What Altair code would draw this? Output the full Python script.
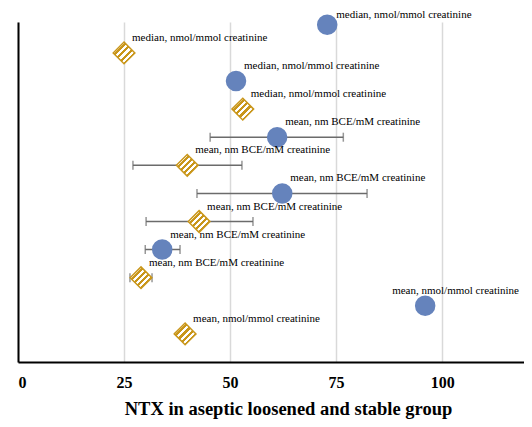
import altair as alt
import pandas as pd

# Data
row_pos = [12, 11, 10, 9, 8, 7, 6, 5, 4, 3, 2, 1]
group = ["loosened", "stable"] * 6
value = [72.9, 25.0, 51.4, 53.0, 61.1, 39.9, 62.3, 42.7, 34.0, 29.0, 96.0, 39.4]
lower = [None, None, None, None, 45.3, 27.1, 42.2, 30.2, 30.0, 26.4, None, None]
upper = [None, None, None, None, 76.7, 52.8, 82.3, 55.4, 38.2, 31.6, None, None]
labels = [
    "median, nmol/mmol creatinine",
    "median, nmol/mmol creatinine",
    "median, nmol/mmol creatinine",
    "median, nmol/mmol creatinine",
    "mean, nm BCE/mM creatinine",
    "mean, nm BCE/mM creatinine",
    "mean, nm BCE/mM creatinine",
    "mean, nm BCE/mM creatinine",
    "mean, nm BCE/mM creatinine",
    "mean, nm BCE/mM creatinine",
    "mean, nmol/mmol creatinine",
    "mean, nmol/mmol creatinine",
]
x_ticks = [0, 25, 50, 75, 100]

df = pd.DataFrame({
    "row": row_pos, "group": group, "value": value,
    "lower": lower, "upper": upper, "label": labels,
})

SERIF = "Liberation Serif"
BLUE = "#6583BC"
GOLD = "#C9961A"

x_scale = alt.Scale(domain=[0, 119.3], nice=False, zero=False)
y_scale = alt.Scale(domain=[0, 12.1], nice=False, zero=False)

x_enc = alt.X(
    "value:Q", scale=x_scale,
    title="NTX in aseptic loosened and stable group",
    axis=alt.Axis(
        values=x_ticks, grid=True, gridColor="#D9D9D9", gridWidth=1.5,
        domainColor="#000000", domainWidth=2, ticks=False,
        labelFont=SERIF, labelFontWeight="bold", labelFontSize=16,
        labelColor="#000000", labelPadding=12,
        titleFont=SERIF, titleFontWeight="bold", titleFontSize=18.5,
        titleColor="#000000", titlePadding=9, titleX=270,
    ),
)
y_enc = alt.Y(
    "row:Q", scale=y_scale, title=None,
    axis=alt.Axis(labels=False, ticks=False, grid=False,
                  domainColor="#000000", domainWidth=2),
)

base = alt.Chart(df)
has_err = "datum.lower != null"

err = base.transform_filter(has_err).mark_rule(
    color="#6B6B6B", strokeWidth=1.5
).encode(
    x=alt.X("lower:Q", scale=x_scale), x2="upper:Q", y=alt.Y("row:Q", scale=y_scale)
)
cap_lo = base.transform_filter(has_err).mark_tick(
    color="#6B6B6B", orient="vertical", size=9, thickness=1.5
).encode(x=alt.X("lower:Q", scale=x_scale), y=alt.Y("row:Q", scale=y_scale))
cap_hi = base.transform_filter(has_err).mark_tick(
    color="#6B6B6B", orient="vertical", size=9, thickness=1.5
).encode(x=alt.X("upper:Q", scale=x_scale), y=alt.Y("row:Q", scale=y_scale))

circles = base.transform_filter("datum.group == 'loosened'").mark_point(
    shape="circle", filled=True, fill=BLUE, size=420, opacity=1, strokeWidth=0
).encode(x=x_enc, y=y_enc)

stops = []
n = 7
for i in range(n):
    a = i / n
    b = (i + 0.5) / n
    c = (i + 1) / n
    stops += [
        alt.GradientStop(color=GOLD, offset=a),
        alt.GradientStop(color=GOLD, offset=b),
        alt.GradientStop(color="#FFFFFF", offset=b),
        alt.GradientStop(color="#FFFFFF", offset=c),
    ]
hatch = alt.Gradient(gradient="linear", x1=0, y1=0, x2=1, y2=1, stops=stops)

diamonds = base.transform_filter("datum.group == 'stable'").mark_point(
    shape="diamond", filled=True, fill=hatch, stroke=GOLD, strokeWidth=1.5,
    size=470, opacity=1
).encode(x=alt.X("value:Q", scale=x_scale), y=alt.Y("row:Q", scale=y_scale))

txt_enc = dict(
    x=alt.X("value:Q", scale=x_scale), y=alt.Y("row:Q", scale=y_scale), text="label:N"
)
txt_style = dict(align="left", baseline="middle", font=SERIF, fontSize=11, color="#000000")

text_main = base.transform_filter("datum.value < 90 && datum.row < 12").mark_text(
    dx=8, dy=-15, **txt_style
).encode(**txt_enc)

text_top = base.transform_filter("datum.row == 12").mark_text(
    dx=9, dy=-10, **txt_style
).encode(**txt_enc)

text_edge = base.transform_filter("datum.value >= 90").mark_text(
    dx=-33, dy=-15, **txt_style
).encode(**txt_enc)

chart = alt.layer(
    err, cap_lo, cap_hi, circles, diamonds, text_main, text_top, text_edge
).properties(
    width=506, height=340,
    padding={"left": 10, "top": 14, "right": 0, "bottom": 57},
    autosize=alt.AutoSizeParams(type="none"),
).configure_view(stroke=None)

chart.save("out.html", embed_options={"renderer": "svg", "actions": False})
